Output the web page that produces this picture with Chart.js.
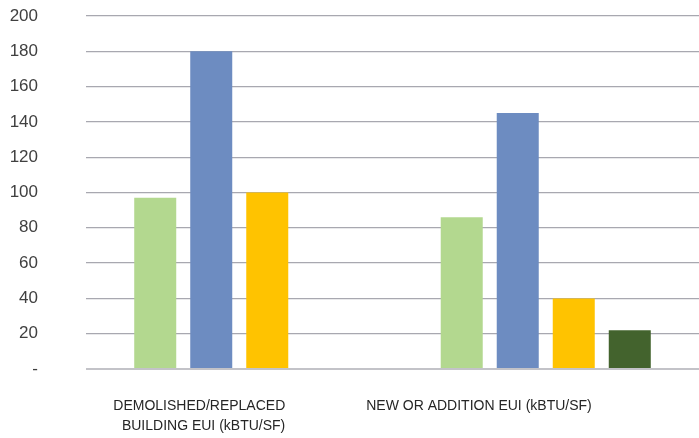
<!DOCTYPE html>
<html>
<head>
<meta charset="utf-8">
<script src="https://cdn.jsdelivr.net/npm/chart.js@4"></script>
<style>
  html, body { margin: 0; padding: 0; background: #fff; }
  #wrap { width: 699px; height: 438px; }
</style>
</head>
<body>
<div id="wrap"><canvas id="euiChart"></canvas></div>
<script>
const categories = [["DEMOLISHED/REPLACED", "BUILDING EUI (kBTU/SF)"], "NEW OR ADDITION EUI (kBTU/SF)"];
const seriesA = [97, 86];
const seriesB = [180, 145];
const seriesC = [100, 40];
const seriesD = [null, 22];
const yTicks = [0, 20, 40, 60, 80, 100, 120, 140, 160, 180, 200];

const colors = ["#b3d88f", "#6d8cc1", "#ffc300", "#43632d"];

new Chart(document.getElementById("euiChart"), {
    type: "bar",
    data: {
        labels: categories,
        datasets: [seriesA, seriesB, seriesC, seriesD].map((d, i) => ({
            label: "s" + (i + 1),
            data: d,
            backgroundColor: colors[i],
            borderWidth: 0,
            categoryPercentage: 0.731,
            barPercentage: 0.75
        }))
    },
    options: {
        responsive: true,
        maintainAspectRatio: false,
        animation: false,
        layout: { padding: { top: 16, right: 0, bottom: 0, left: 0 } },
        plugins: { legend: { display: false }, tooltip: { enabled: false } },
        scales: {
            x: {
                afterFit: (scale) => { scale.height = 69; },
                grid: { display: false, drawTicks: false },
                border: { display: false },
                ticks: {
                    padding: 27,
                    align: "end",
                    labelOffset: 46,
                    color: "#262626",
                    maxRotation: 0,
                    autoSkip: false,
                    font: { family: "'Liberation Sans', sans-serif", size: 14, lineHeight: 1.43 }
                }
            },
            y: {
                min: 0,
                max: 200,
                afterBuildTicks: (scale) => { scale.ticks = yTicks.map(v => ({ value: v })); },
                afterFit: (scale) => {
                    // tick padding would otherwise push the plot down
                    scale.width = 86;
                    scale.paddingTop = 10;
                    scale.paddingBottom = 0;
                },
                grid: {
                    drawTicks: false,
                    color: (ctx) => ctx.tick && ctx.tick.value === 0 ? "#c3c3c8" : "#a8a8b0",
                    lineWidth: (ctx) => ctx.tick && ctx.tick.value === 0 ? 2 : 1.3
                },
                border: { display: false },
                ticks: {
                    padding: 48,
                    color: "#404040",
                    font: { family: "'Liberation Sans', sans-serif", size: 17 },
                    callback: (v) => v === 0 ? "-" : v
                }
            }
        }
    }
});
</script>
</body>
</html>
